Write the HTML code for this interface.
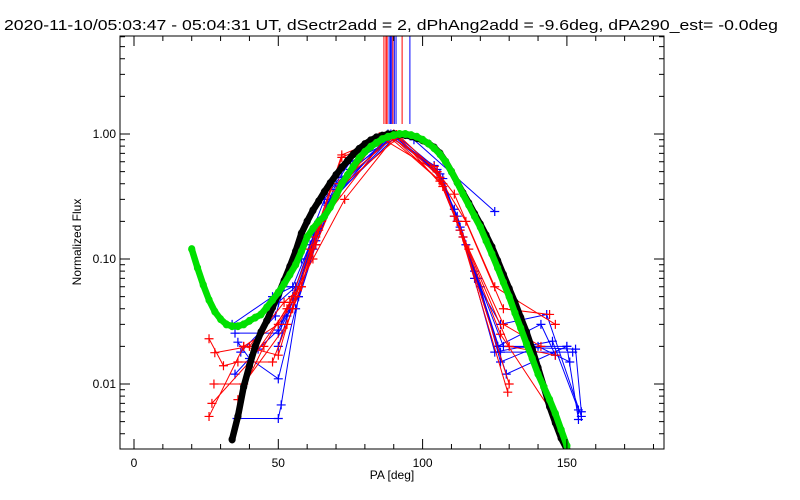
<!DOCTYPE html>
<html><head><meta charset="utf-8"><style>
html,body{margin:0;padding:0;background:#fff;}
svg{display:block;font-family:"Liberation Sans",sans-serif;}
</style></head><body>
<svg id="chart" width="800" height="500" viewBox="0 0 800 500">
<text x="4" y="30" font-size="15" textLength="774" lengthAdjust="spacingAndGlyphs">2020-11-10/05:03:47 - 05:04:31 UT, dSectr2add = 2, dPhAng2add = -9.6deg, dPA290_est= -0.0deg</text>
<g id="marks"></g>
<rect x="120" y="36" width="544" height="413" fill="none" stroke="#000" stroke-width="1"/>
<g id="axes"></g>
<text x="392" y="479" font-size="12" text-anchor="middle">PA [deg]</text>
<text transform="translate(81,242) rotate(-90)" font-size="12" text-anchor="middle">Normalized Flux</text>
</svg>
<script>
const xTicks=[0,50,100,150];
const yTicks=[1,0.1,0.01];
const yTickLabels=["1.00","0.10","0.01"];
const vlinePA=[86.6,87.3,87.7,88.4,88.9,89.3,89.7,90.2,90.8,92.9,95.6];
const vlineColor=["red","red","red","blue","blue","blue","red","blue","blue","red","blue"];
const blackPA=[34,36,38,40,42,44,46,48,50,52,54,56,58,60,62,64,66,68,70,72,74,76,78,80,82,84,86,88,90,92,94,96,98,100,102,104,106,108,110,112,114,116,118,120,122,124,126,128,130,132,134,136,138,140,142,144,146,148,150];
const blackFlux=[0.0036,0.0055,0.0095,0.014,0.020,0.026,0.032,0.041,0.052,0.067,0.087,0.115,0.16,0.20,0.245,0.29,0.345,0.405,0.47,0.54,0.61,0.69,0.76,0.83,0.89,0.94,0.97,0.995,1.0,0.99,0.98,0.96,0.93,0.89,0.84,0.78,0.70,0.60,0.50,0.41,0.337,0.28,0.23,0.19,0.155,0.125,0.097,0.075,0.058,0.045,0.034,0.026,0.019,0.0135,0.0095,0.0066,0.0049,0.0037,0.003];
const greenPA=[20,22,24,26,28,30,32,34,36,38,40,42,44,46,48,50,52,54,56,58,60,62,64,66,68,70,72,74,76,78,80,82,84,86,88,90,92,94,96,98,100,102,104,106,108,110,112,114,116,118,120,122,124,126,128,130,132,134,136,138,140,142,144,146,148,150];
const greenFlux=[0.12,0.085,0.062,0.047,0.038,0.033,0.030,0.029,0.029,0.030,0.032,0.034,0.036,0.041,0.047,0.054,0.063,0.075,0.09,0.115,0.15,0.175,0.20,0.22,0.26,0.32,0.40,0.47,0.55,0.64,0.72,0.79,0.85,0.91,0.95,0.98,1.0,1.0,0.98,0.95,0.90,0.84,0.77,0.69,0.60,0.50,0.41,0.33,0.27,0.22,0.18,0.14,0.11,0.085,0.065,0.050,0.037,0.028,0.021,0.016,0.012,0.0095,0.0075,0.0058,0.0043,0.0032];
const blueSeries=[
[[35,0.0255],[50,0.0255],[53,0.035],[57,0.05],[62,0.12],[68,0.3],[75,0.52],[88,1],[105,0.5],[112,0.2],[118,0.07],[127,0.03],[143,0.036],[155,0.0055]],
[[36,0.0216],[40,0.016],[50,0.011],[56,0.04],[63,0.13],[69,0.3],[90,0.98],[106,0.48],[113,0.18],[126,0.02],[153,0.019],[155,0.006]],
[[35,0.012],[43,0.019],[50,0.027],[55,0.05],[61,0.13],[67,0.28],[91,0.97],[104,0.55],[111,0.22],[119,0.07],[128,0.02],[150,0.02]],
[[35.7,0.0053],[50,0.0053],[51,0.0068],[57,0.05],[63,0.14],[70,0.33],[89,1.0],[105,0.5],[114,0.15],[125,0.018],[145,0.022],[154,0.0062]],
[[37,0.018],[49,0.035],[52,0.06],[58,0.1],[66,0.3],[75,0.6],[92,0.95],[97,0.9],[125,0.24]],
[[34,0.03],[48,0.05],[55,0.06],[62,0.15],[70,0.4],[90,1],[106,0.45],[112,0.22],[120,0.06],[127,0.015],[140,0.02],[151,0.015]],
[[50,0.045],[56,0.06],[64,0.2],[72,0.45],[90,0.96],[105,0.52],[113,0.17],[129,0.012],[150,0.02],[154,0.0052]],
[[51,0.03],[56,0.05],[63,0.16],[70,0.36],[90,0.99],[107,0.44],[115,0.13],[126,0.02],[141,0.03],[146,0.017]],
[[50,0.02],[54,0.04],[60,0.1],[67,0.27],[88,0.97],[104,0.56],[111,0.25],[118,0.08],[127,0.018],[152,0.018]]
];
const redSeries=[
[[26,0.023],[31,0.014],[36,0.015],[48,0.015],[55,0.04],[63,0.13],[70,0.32],[85,0.95],[105,0.5],[113,0.17],[130,0.01]],
[[28,0.0178],[40,0.02],[52,0.045],[58,0.06],[64,0.18],[72,0.65],[90,1.0],[106,0.45],[112,0.2],[129.5,0.0086]],
[[27.7,0.01],[38,0.01],[53,0.03],[58,0.06],[65,0.2],[88,0.98],[104,0.55],[111,0.22],[127,0.025],[146,0.0054]],
[[27,0.007],[40,0.015],[53,0.04],[62,0.1],[73,0.3],[90,0.93],[107,0.4],[115,0.2],[128,0.04],[144,0.036]],
[[26,0.0055],[38,0.02],[50,0.03],[56,0.05],[63,0.15],[70,0.35],[92,0.96],[105,0.5],[111,0.33],[125,0.06],[146,0.03]],
[[36,0.0075],[45,0.02],[54,0.045],[61,0.12],[72,0.68],[88,0.97],[106,0.42],[116,0.12],[128,0.03],[141,0.02]],
[[38,0.02],[50,0.017],[56,0.05],[64,0.17],[71,0.4],[91,0.99],[107,0.38],[114,0.15],[130,0.02],[146,0.017]]
];
const NS='http://www.w3.org/2000/svg';
function X(v){return 134+v*2.886;}
function Y(v){return 134-125*Math.log10(v);}
function mk(tag,attrs,parent){const e=document.createElementNS(NS,tag);for(const k in attrs)e.setAttribute(k,attrs[k]);parent.appendChild(e);return e;}
const marks=document.getElementById('marks');
const axes=document.getElementById('axes');
const defs=mk('defs',{},marks);
const cp=mk('clipPath',{id:'pc'},defs);
mk('rect',{x:120,y:36,width:544,height:413},cp);
const g=mk('g',{'clip-path':'url(#pc)'},marks);
vlinePA.forEach((p,i)=>{
  const l=mk('line',{x1:X(p),x2:X(p),y1:36,y2:124,stroke:vlineColor[i],'stroke-width':1},g);
  
  
});
function drawSeries(arr,color,name){
  const sg=mk('g',{},g);
  
  
  mk('polyline',{points:arr.map(p=>X(p[0])+','+Y(p[1])).join(' '),fill:'none',stroke:color,'stroke-width':1},sg);
  arr.forEach(p=>{
    const x=X(p[0]),y=Y(p[1]);
    mk('path',{d:`M${x-4.5},${y}H${x+4.5}M${x},${y-4.5}V${y+4.5}`,stroke:color,'stroke-width':1.2},sg);
  });
}
blueSeries.forEach(s=>drawSeries(s,'blue','blue-series'));
redSeries.forEach(s=>drawSeries(s,'red','red-series'));
function drawDots(pa,fl,color,name){
  const dg=mk('g',{fill:color},g);
  
  
  mk('polyline',{points:pa.map((p,i)=>X(p)+','+Y(fl[i])).join(' '),fill:'none',stroke:color,'stroke-width':6.5,'stroke-linejoin':'round','stroke-linecap':'round'},dg);
  pa.forEach((p,i)=>{
    const d=mk('ellipse',{cx:X(p),cy:Y(fl[i]),rx:3.6,ry:4},dg);
    
    
  });
}
drawDots(blackPA,blackFlux,'#000','black-model-dots');
drawDots(greenPA,greenFlux,'#00e000','green-model-dots');
for(let v=0;v<=180;v+=10){
  const major=v%50===0, L=major?10:5, x=X(v);
  mk('line',{x1:x,x2:x,y1:449,y2:449-L,stroke:'#000'},axes);
  mk('line',{x1:x,x2:x,y1:36,y2:36+L,stroke:'#000'},axes);
}
xTicks.forEach(v=>{
  const t=mk('text',{x:X(v),y:467,'font-size':12,'text-anchor':'middle'},axes);
  t.textContent=String(v);
  
  
});
for(let d=-3;d<=0;d++){
  for(let m=1;m<=9;m++){
    const v=m*Math.pow(10,d); const y=Y(v);
    if(y<36||y>449)continue;
    const L=m===1?10:5;
    mk('line',{x1:120,x2:120+L,y1:y,y2:y,stroke:'#000'},axes);
    mk('line',{x1:664,x2:664-L,y1:y,y2:y,stroke:'#000'},axes);
  }
}
yTicks.forEach((v,i)=>{
  const t=mk('text',{x:116,y:Y(v)+4,'font-size':12,'text-anchor':'end'},axes);
  t.textContent=yTickLabels[i];
  
  
});
</script>
</body></html>
